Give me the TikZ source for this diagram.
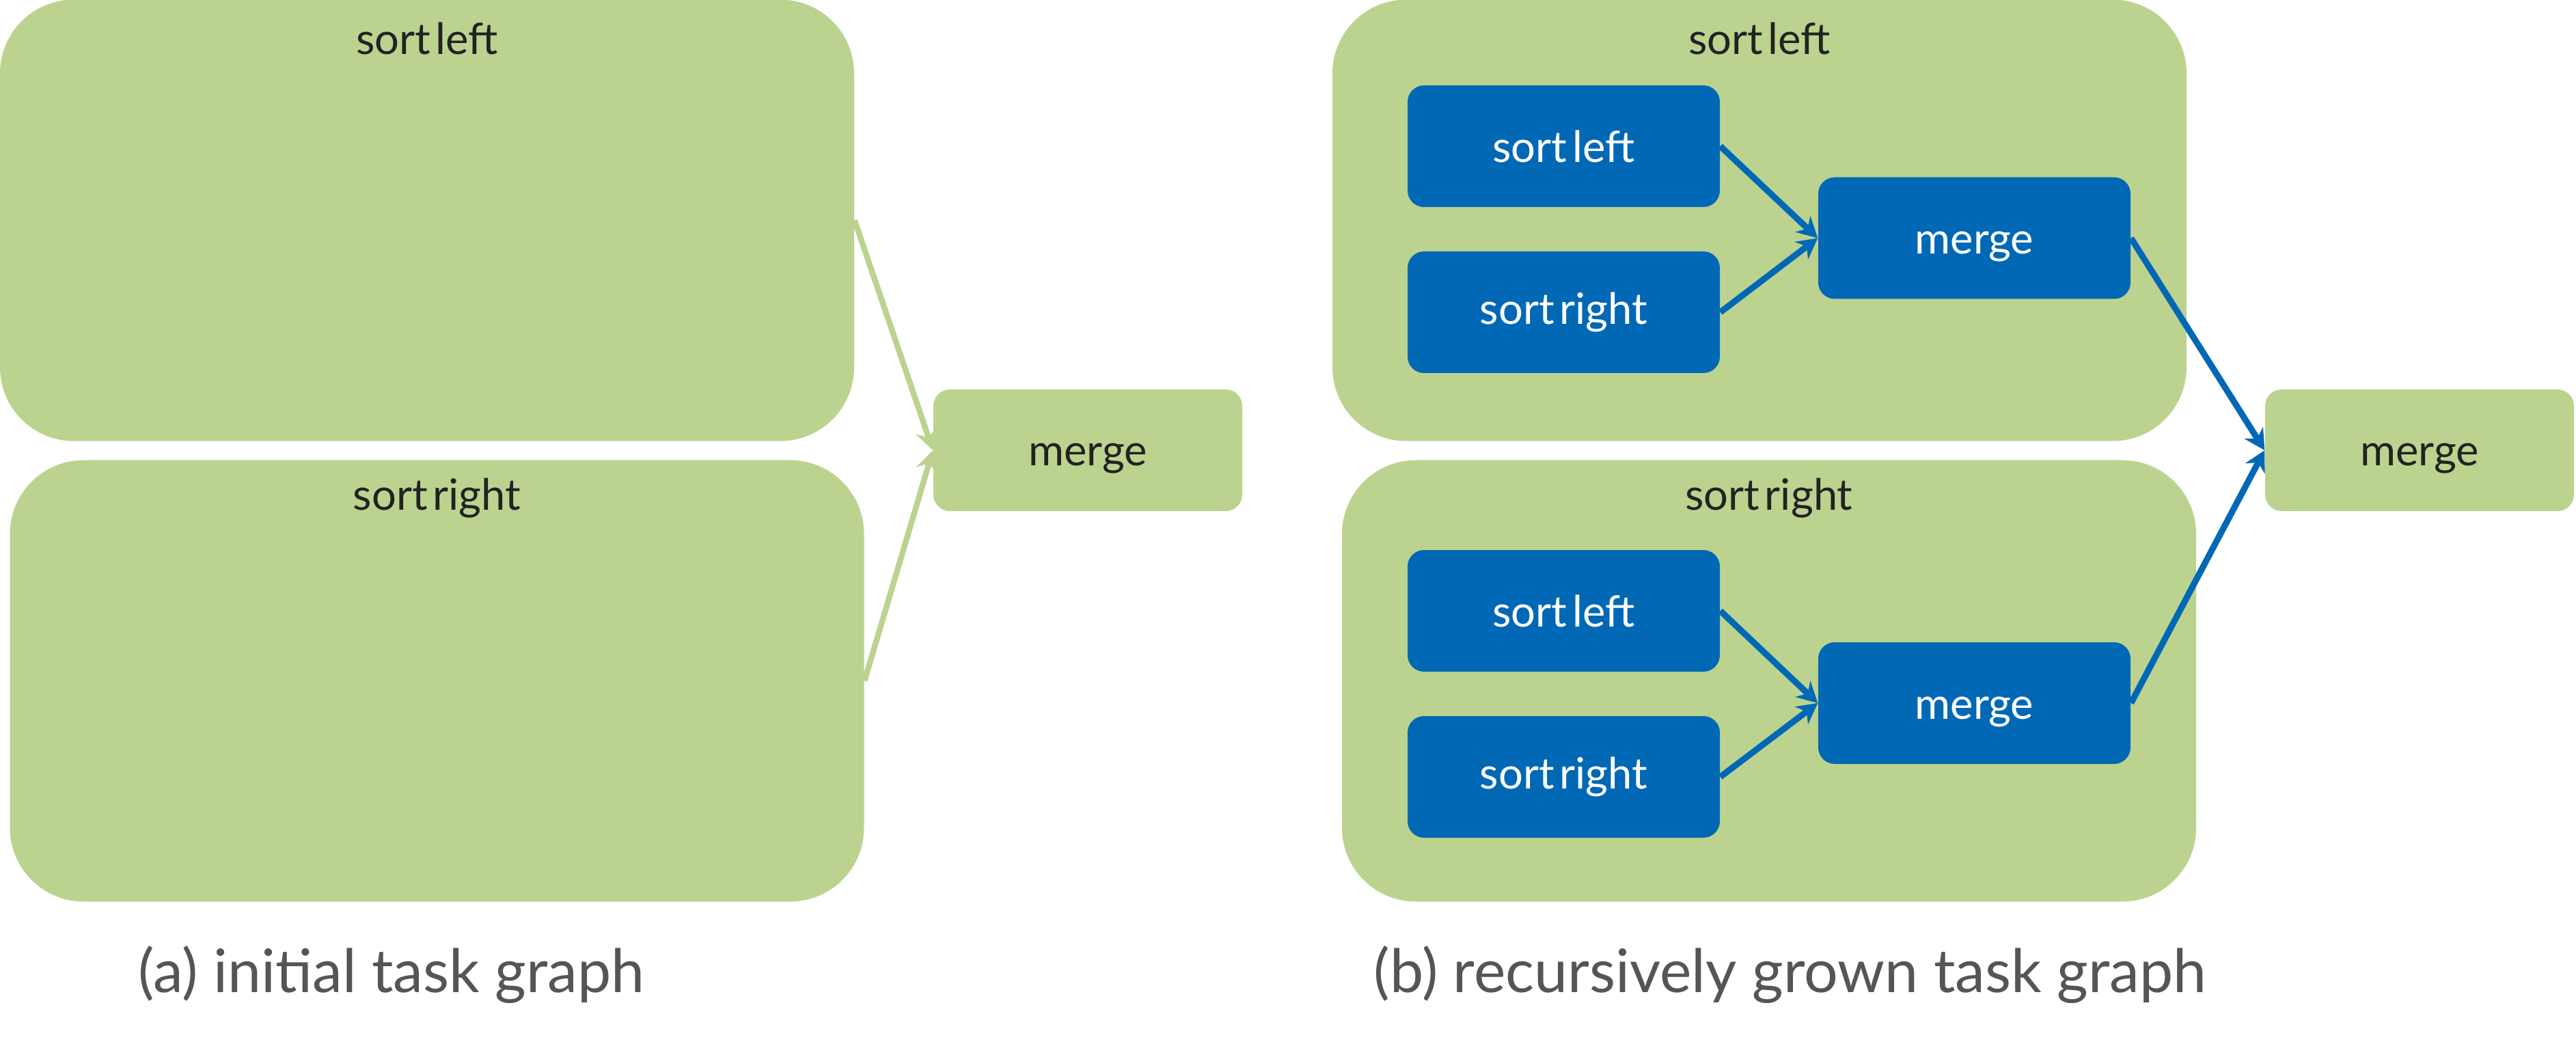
\documentclass[tikz,border=0pt]{standalone}
\usepackage{fontspec}
\setmainfont{Lato}
\usetikzlibrary{arrows.meta}
\definecolor{tgreen}{RGB}{188,211,143}
\definecolor{tblue}{RGB}{0,104,181}
\definecolor{tdark}{RGB}{34,34,34}
\definecolor{tgray}{RGB}{85,85,85}
\tikzset{
  outerbox/.style={fill=tgreen, rounded corners=1.08cm, minimum width=12.5cm, minimum height=6.46cm, inner sep=0pt},
  greenbox/.style={fill=tgreen, rounded corners=0.24cm, minimum width=4.52cm, minimum height=1.78cm, inner sep=0pt, text=tdark, font=\fontsize{18}{21}\selectfont},
  bluebox/.style={fill=tblue, rounded corners=0.24cm, minimum width=4.57cm, minimum height=1.78cm, inner sep=0pt, text=white, font=\fontsize{18}{21}\selectfont},
  mergetext/.style={text height=0.64cm, text depth=0.18cm},
  boxlabel/.style={text=tdark, font=\fontsize{18}{21}\selectfont, inner sep=0pt},
  caption/.style={text=tgray, font=\fontsize{25}{30}\selectfont, inner sep=0pt},
  garrow/.style={draw=tgreen, line width=2.4pt, -{Stealth[length=0.3cm, width=0.32cm]}},
  barrow/.style={draw=tblue, line width=2.6pt, -{Stealth[length=0.3cm, width=0.32cm]}},
}
\begin{document}
\begin{tikzpicture}
\useasboundingbox (0,0) rectangle (37.7,-15.25);
% ---- panel (a)
\node[outerbox] (aL) at (6.25,-3.225) {};
\node[outerbox] (aR) at (6.395,-9.965) {};
\node[boxlabel] (aLt) at (6.25,-0.56) {sort\hspace{0.12em}left};
\node[boxlabel] (aRt) at (6.395,-7.29) {sort\hspace{0.12em}right};
\node[greenbox, mergetext] (aM) at (15.92,-6.59) {merge};
\draw[garrow] (aL.east) -- (aM.west);
\draw[garrow] (aR.east) -- (aM.west);
\node[caption] (capa) at (5.73,-14.26) {(a) initial task graph};
% ---- panel (b)
\node[outerbox] (bL) at (25.75,-3.225) {};
\node[outerbox] (bR) at (25.89,-9.965) {};
\node[boxlabel] (bLt) at (25.75,-0.56) {sort\hspace{0.12em}left};
\node[boxlabel] (bRt) at (25.89,-7.29) {sort\hspace{0.12em}right};
\node[greenbox, mergetext] (bM) at (35.41,-6.59) {merge};
% inner upper
\node[bluebox] (uL) at (22.885,-2.14) {sort\hspace{0.12em}left};
\node[bluebox] (uR) at (22.885,-4.57) {sort\hspace{0.12em}right};
\node[bluebox, mergetext] (uM) at (28.895,-3.485) {merge};
% inner lower
\node[bluebox] (lL) at (22.885,-8.94) {sort\hspace{0.12em}left};
\node[bluebox] (lR) at (22.885,-11.37) {sort\hspace{0.12em}right};
\node[bluebox, mergetext] (lM) at (28.895,-10.29) {merge};
\draw[barrow] (uL.east) -- (uM.west);
\draw[barrow] (uR.east) -- (uM.west);
\draw[barrow] (lL.east) -- (lM.west);
\draw[barrow] (lR.east) -- (lM.west);
\draw[barrow] (uM.east) -- (bM.west);
\draw[barrow] (lM.east) -- (bM.west);
\node[caption] (capb) at (26.2,-14.26) {(b) recursively grown task graph};
\end{tikzpicture}
\end{document}
